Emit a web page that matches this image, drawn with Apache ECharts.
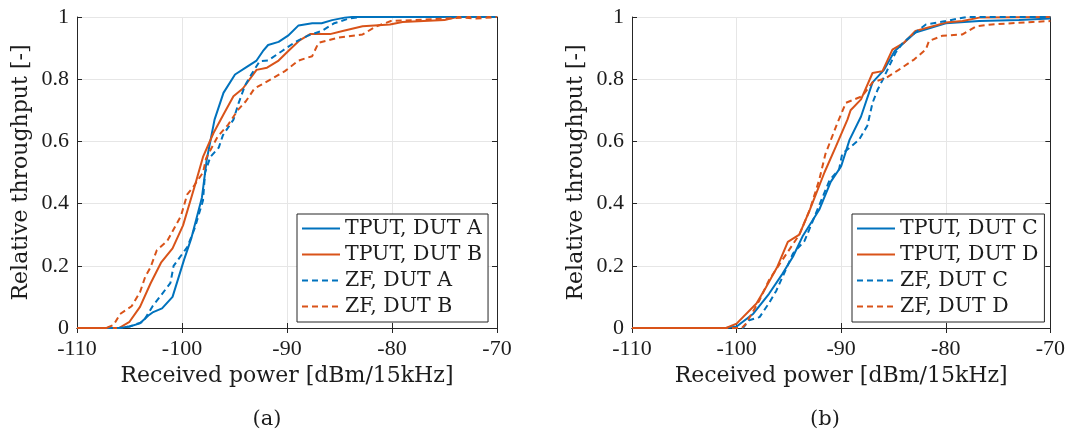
<!DOCTYPE html>
<html>
<head>
<meta charset="utf-8">
<script src="https://cdn.jsdelivr.net/npm/echarts@6/dist/echarts.min.js"></script>
<style>
  html, body { margin: 0; padding: 0; background: #ffffff; }
  #chart { width: 1068px; height: 433px; }
</style>
</head>
<body>
<div id="chart"></div>
<script>
// Received power in dBm/15kHz, paired with relative throughput
const tputA = [[-110,0],[-106,0],[-105,0.005],[-104,0.015],[-103.2,0.04],[-102.8,0.05],[-101.9,0.063],[-100.9,0.1],[-99.8,0.22],[-99.1,0.29],[-98.1,0.42],[-97.65,0.54],[-96.9,0.67],[-96.05,0.756],[-94.95,0.815],[-93.9,0.838],[-92.9,0.86],[-92.3,0.89],[-91.8,0.91],[-90.8,0.92],[-89.9,0.94],[-88.9,0.973],[-87.6,0.98],[-86.7,0.98],[-85.7,0.99],[-84.5,0.998],[-83.8,1],[-70,1]];
const tputB = [[-110,0],[-106,0],[-105,0.02],[-104,0.068],[-103,0.143],[-102,0.21],[-100.9,0.256],[-99.9,0.33],[-98.8,0.455],[-98,0.55],[-97,0.627],[-96,0.69],[-95.1,0.745],[-94.2,0.77],[-92.9,0.83],[-91.9,0.837],[-90.8,0.86],[-89.9,0.89],[-88.8,0.925],[-87.8,0.945],[-85.9,0.945],[-84.7,0.955],[-82.8,0.97],[-80.2,0.976],[-79,0.984],[-75,0.99],[-73.8,1],[-70,1]];
const zfA = [[-110,0],[-106,0],[-105,0.005],[-103.7,0.02],[-102.8,0.07],[-102,0.105],[-101.1,0.145],[-100.8,0.2],[-99.5,0.26],[-98.8,0.32],[-98,0.41],[-97.8,0.5],[-97.3,0.55],[-96.5,0.58],[-96.1,0.62],[-95.1,0.67],[-94.6,0.724],[-94,0.78],[-93.4,0.815],[-92.6,0.858],[-91.8,0.86],[-90.5,0.89],[-89.2,0.92],[-88,0.94],[-86.7,0.955],[-85.5,0.98],[-84.1,0.995],[-83,1],[-70,1]];
const zfB = [[-110,0],[-107.2,0],[-106.5,0.01],[-105.9,0.045],[-104.8,0.07],[-104,0.115],[-103.5,0.165],[-103,0.195],[-102.4,0.25],[-101.4,0.28],[-100.1,0.36],[-99.5,0.43],[-99,0.45],[-98,0.5],[-97.7,0.546],[-96.6,0.616],[-95.6,0.654],[-94.7,0.7],[-93.9,0.73],[-93.1,0.77],[-91.5,0.8],[-90.2,0.826],[-88.9,0.86],[-87.6,0.874],[-87,0.917],[-85.1,0.934],[-82.8,0.944],[-81.5,0.97],[-80.1,0.987],[-78,0.99],[-73,0.998],[-72,0.995],[-70,1]];

const tputC = [[-110,0],[-101,0],[-100,0.005],[-98.4,0.046],[-96.9,0.11],[-95.6,0.175],[-94.6,0.23],[-93.7,0.294],[-92.1,0.38],[-91,0.47],[-90,0.52],[-89.2,0.605],[-88.1,0.68],[-87,0.79],[-85.9,0.83],[-84.9,0.89],[-82.9,0.95],[-80,0.98],[-76.8,0.987],[-73,0.99],[-70,0.995]];
const tputD = [[-110,0],[-101,0],[-100,0.014],[-98.1,0.079],[-97.2,0.13],[-96.1,0.197],[-95.1,0.277],[-94,0.3],[-93,0.38],[-91.6,0.5],[-90.5,0.584],[-89.4,0.67],[-89.1,0.7],[-88.1,0.735],[-87,0.82],[-86.05,0.826],[-85.1,0.895],[-84,0.917],[-82.9,0.955],[-80,0.982],[-78.4,0.987],[-76.8,0.998],[-70,1]];
const zfC = [[-110,0],[-99.4,0],[-98.8,0.025],[-97.8,0.035],[-96.9,0.08],[-96.2,0.12],[-95.6,0.165],[-94.6,0.24],[-93.5,0.28],[-92.4,0.37],[-91.1,0.476],[-90.2,0.51],[-89.9,0.56],[-88.3,0.605],[-87.5,0.65],[-87,0.724],[-86.5,0.767],[-86,0.8],[-84.8,0.885],[-84.1,0.917],[-82.9,0.95],[-81.9,0.976],[-80,0.987],[-78,1],[-70,1]];
const zfD = [[-110,0],[-99.5,0],[-99.1,0.014],[-97.8,0.09],[-96.9,0.154],[-95.6,0.22],[-94.6,0.27],[-94,0.3],[-93,0.38],[-92.1,0.476],[-91.5,0.56],[-90.35,0.66],[-89.55,0.724],[-88,0.745],[-87,0.79],[-85.7,0.804],[-84.5,0.83],[-83,0.864],[-81.9,0.896],[-81.6,0.923],[-80.3,0.94],[-78.4,0.944],[-77.1,0.97],[-75.6,0.976],[-71.7,0.984],[-70,0.987]];

const namesLeft = ['TPUT, DUT A', 'TPUT, DUT B', 'ZF, DUT A', 'ZF, DUT B'];
const namesRight = ['TPUT, DUT C', 'TPUT, DUT D', 'ZF, DUT C', 'ZF, DUT D'];
const panelLabels = ['(a)', '(b)'];
const xTitle = 'Received power [dBm/15kHz]';
const yTitle = 'Relative throughput [-]';

const BLUE = '#0072BD';
const ORANGE = '#D95319';
const INK = '#262626';
const TEXT = '#1c1c1c';
// Tick numbers use a Times-like face; words use a wider serif
const NUM_FONT = "'Liberation Serif', 'Times New Roman', serif";
const WORD_FONT = "'DejaVu Serif', 'Liberation Serif', serif";

const chart = echarts.init(document.getElementById('chart'), null, { renderer: 'canvas' });

function bottomX(gi) {
  return {
    type: 'value', gridIndex: gi, position: 'bottom', min: -110, max: -70, interval: 10,
    name: xTitle, nameLocation: 'middle', nameGap: 37,
    nameTextStyle: { fontFamily: WORD_FONT, fontSize: 22, color: TEXT },
    axisLine: { show: true, lineStyle: { color: INK, width: 1 } },
    axisTick: { show: true, inside: true, length: 5, lineStyle: { color: INK } },
    axisLabel: { fontFamily: NUM_FONT, fontSize: 22, color: TEXT, margin: 10 },
    splitLine: { show: true, lineStyle: { color: '#e6e6e6', width: 1 } }
  };
}
function topX(gi) {
  return {
    type: 'value', gridIndex: gi, position: 'top', min: -110, max: -70, interval: 10,
    axisLine: { show: true, lineStyle: { color: INK, width: 1 } },
    axisTick: { show: true, inside: true, length: 5, lineStyle: { color: INK } },
    axisLabel: { show: false }, splitLine: { show: false }
  };
}
function leftY(gi) {
  return {
    type: 'value', gridIndex: gi, position: 'left', min: 0, max: 1, interval: 0.2,
    name: yTitle, nameLocation: 'middle', nameGap: 45, nameRotate: 90,
    nameTextStyle: { fontFamily: WORD_FONT, fontSize: 22, color: TEXT },
    axisLine: { show: true, lineStyle: { color: INK, width: 1 } },
    axisTick: { show: true, inside: true, length: 5, lineStyle: { color: INK } },
    axisLabel: { fontFamily: NUM_FONT, fontSize: 22, color: TEXT, margin: 8 },
    splitLine: { show: true, lineStyle: { color: '#e6e6e6', width: 1 } }
  };
}
function rightY(gi) {
  return {
    type: 'value', gridIndex: gi, position: 'right', min: 0, max: 1, interval: 0.2,
    axisLine: { show: true, lineStyle: { color: INK, width: 1 } },
    axisTick: { show: true, inside: true, length: 5, lineStyle: { color: INK } },
    axisLabel: { show: false }, splitLine: { show: false }
  };
}
function line(name, data, color, dashed, xi, yi) {
  return {
    type: 'line', name: name, data: data, xAxisIndex: xi, yAxisIndex: yi,
    symbol: 'none', showSymbol: false, smooth: false, silent: true,
    lineStyle: { color: color, width: 2, type: dashed ? [6, 4] : 'solid' },
    itemStyle: { color: color }
  };
}
function legendBox(left, names) {
  return {
    left: left, top: 214, orient: 'vertical',
    data: names, itemWidth: 38, itemHeight: 14, itemGap: 5,
    padding: [4, 6, 5, 4],
    backgroundColor: '#ffffff', borderColor: INK, borderWidth: 1, borderRadius: 0,
    itemStyle: { opacity: 0, borderWidth: 0 },
    textStyle: { fontFamily: WORD_FONT, fontSize: 20.5, color: TEXT, lineHeight: 20 },
    selectedMode: false
  };
}

chart.setOption({
  animation: false,
  backgroundColor: '#ffffff',
  grid: [
    { left: 77, top: 17, width: 420, height: 311, containLabel: false },
    { left: 632, top: 17, width: 419, height: 311, containLabel: false }
  ],
  xAxis: [bottomX(0), topX(0), bottomX(1), topX(1)],
  yAxis: [leftY(0), rightY(0), leftY(1), rightY(1)],
  legend: [legendBox(297, namesLeft), legendBox(852, namesRight)],
  title: [
    { text: panelLabels[0], left: 262, top: 404, textAlign: 'center',
      textStyle: { fontFamily: WORD_FONT, fontSize: 21, fontWeight: 'normal', color: TEXT } },
    { text: panelLabels[1], left: 820, top: 404, textAlign: 'center',
      textStyle: { fontFamily: WORD_FONT, fontSize: 21, fontWeight: 'normal', color: TEXT } }
  ],
  series: [
    line(namesLeft[0], tputA, BLUE, false, 0, 0),
    line(namesLeft[1], tputB, ORANGE, false, 0, 0),
    line(namesLeft[2], zfA, BLUE, true, 0, 0),
    line(namesLeft[3], zfB, ORANGE, true, 0, 0),
    line(namesRight[0], tputC, BLUE, false, 2, 2),
    line(namesRight[1], tputD, ORANGE, false, 2, 2),
    line(namesRight[2], zfC, BLUE, true, 2, 2),
    line(namesRight[3], zfD, ORANGE, true, 2, 2)
  ]
});
</script>
</body>
</html>
